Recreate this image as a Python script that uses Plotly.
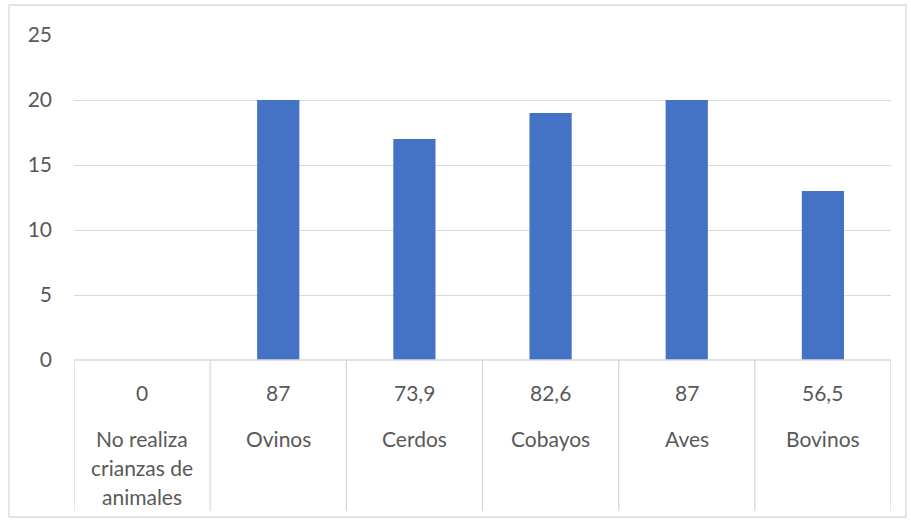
import plotly.graph_objects as go

# Data
categories = ["No realiza crianzas de animales", "Ovinos", "Cerdos", "Cobayos", "Aves", "Bovinos"]
category_lines = [["No realiza", "crianzas de", "animales"], ["Ovinos"], ["Cerdos"], ["Cobayos"], ["Aves"], ["Bovinos"]]
percent_labels = ["0", "87", "73,9", "82,6", "87", "56,5"]
counts = [0, 20, 17, 19, 20, 13]
y_ticks = [0, 5, 10, 15, 20, 25]

W, H = 911, 521
L, R, T, B = 74, 20, 35, 161
plot_w = W - L - R
plot_h = H - T - B

def px_x(x):
    return (x - L) / plot_w

def px_y(y):
    return (H - B - y) / plot_h

TEXT = "#595959"
GRID = "#d9d9d9"
FONT = "Lato, 'Open Sans', sans-serif"
FS = 21

fig = go.Figure()
fig.add_trace(go.Bar(
    x=list(range(len(categories))), y=counts,
    marker=dict(color="#4472C4", line=dict(width=0)),
    width=0.31, hoverinfo="y",
))

annotations = []
shapes = []
for i, (pl, lines) in enumerate(zip(percent_labels, category_lines)):
    annotations.append(dict(x=i, y=px_y(392), xref="x", yref="paper", text=pl,
                            showarrow=False, font=dict(size=FS, color=TEXT, family=FONT),
                            xanchor="center", yanchor="middle"))
    for j, ln in enumerate(lines):
        annotations.append(dict(x=i, y=px_y(438 + 29 * j), xref="x", yref="paper", text=ln,
                                showarrow=False, font=dict(size=FS, color=TEXT, family=FONT),
                                xanchor="center", yanchor="middle"))

for k in range(len(categories) + 1):
    shapes.append(dict(type="line", xref="x", yref="paper", x0=k - 0.5, x1=k - 0.5,
                       y0=0, y1=px_y(511), line=dict(color=GRID, width=1.3)))
shapes.append(dict(type="line", xref="paper", yref="paper", x0=0, x1=1, y0=0, y1=0,
                   line=dict(color=GRID, width=1.3)))
shapes.append(dict(type="rect", xref="paper", yref="paper", x0=px_x(9), x1=px_x(906),
                   y0=px_y(517), y1=px_y(5), line=dict(color=GRID, width=1.3),
                   fillcolor="rgba(0,0,0,0)", layer="below"))

fig.update_layout(
    width=W, height=H,
    margin=dict(l=L, r=R, t=T, b=B),
    paper_bgcolor="white", plot_bgcolor="white",
    showlegend=False,
    xaxis=dict(range=[-0.5, len(categories) - 0.5], showticklabels=False, showgrid=False,
               zeroline=False, showline=False, fixedrange=True),
    yaxis=dict(range=[0, 25], tickvals=y_ticks, showgrid=True, gridcolor=GRID, gridwidth=1.3,
               zeroline=False, showline=False, ticklabelstandoff=21,
               tickfont=dict(size=FS, color=TEXT, family=FONT)),
    annotations=annotations,
    shapes=shapes,
)

fig.write_html("out.html", config={"displayModeBar": False},
               post_script="document.body.style.margin='0';document.body.style.overflow='hidden';")
